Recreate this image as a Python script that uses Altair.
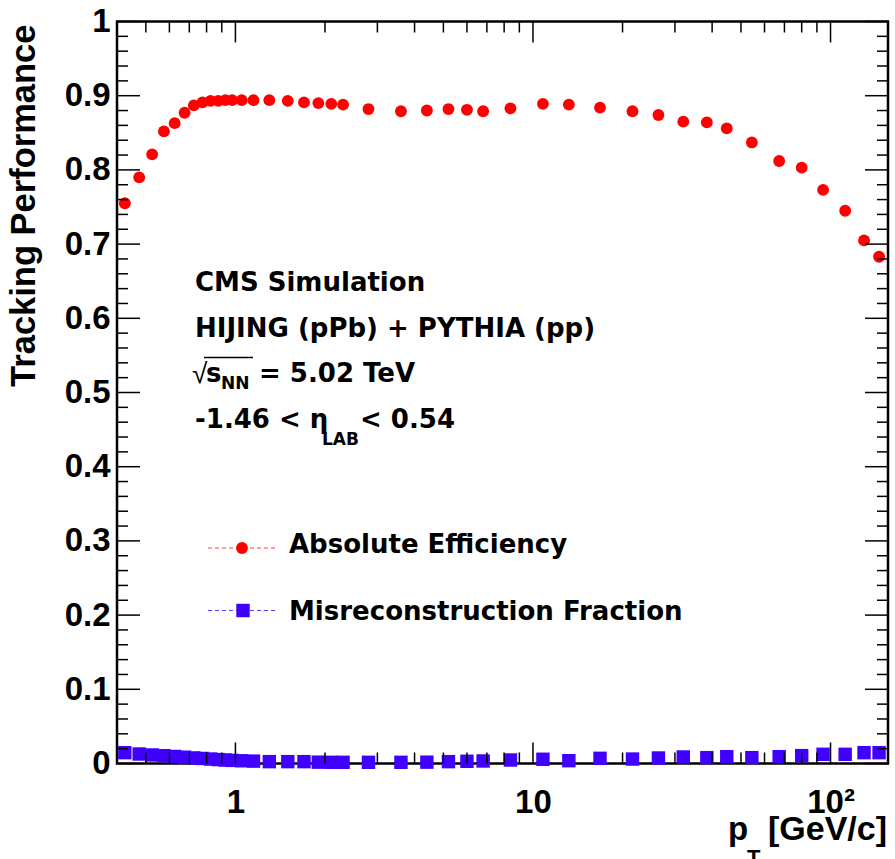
import altair as alt
import pandas as pd

# ---------------- data ----------------
pt = [0.425, 0.475, 0.525, 0.575, 0.625, 0.675, 0.725, 0.775, 0.825, 0.875,
      0.925, 0.975, 1.05, 1.15, 1.3, 1.5, 1.7, 1.9, 2.1, 2.3,
      2.8, 3.6, 4.4, 5.2, 6.0, 6.8, 8.4, 10.8, 13.2, 16.8,
      21.6, 26.4, 32.0, 38.4, 44.8, 54.4, 67.2, 80.0, 94.4, 112.0,
      129.6, 145.6]

efficiency = [0.755, 0.790, 0.821, 0.852, 0.863, 0.877, 0.887, 0.891, 0.893, 0.893,
              0.894, 0.894, 0.894, 0.894, 0.894, 0.893, 0.891, 0.890, 0.889, 0.888,
              0.882, 0.879, 0.880, 0.882, 0.881, 0.879, 0.883, 0.889, 0.888, 0.884,
              0.879, 0.874, 0.865, 0.864, 0.856, 0.837, 0.812, 0.803, 0.773, 0.745,
              0.705, 0.683]

misreco = [0.0146, 0.0128, 0.0115, 0.0105, 0.0095, 0.0085, 0.0075, 0.0068, 0.0060, 0.0053,
           0.0047, 0.0042, 0.0037, 0.0032, 0.0025, 0.0025, 0.0025, 0.0018, 0.0016, 0.0016,
           0.0016, 0.0016, 0.0018, 0.0025, 0.0030, 0.0034, 0.0047, 0.0057, 0.0038, 0.0070,
           0.0060, 0.0074, 0.0088, 0.0079, 0.0092, 0.0079, 0.0092, 0.0106, 0.0124, 0.0124,
           0.0146, 0.0146]

y_major = [0.0, 0.1, 0.2, 0.3, 0.4, 0.5, 0.6, 0.7, 0.8, 0.9, 1.0]
y_minor = [0.02, 0.04, 0.06, 0.08, 0.12, 0.14, 0.16, 0.18, 0.22, 0.24, 0.26, 0.28,
           0.32, 0.34, 0.36, 0.38, 0.42, 0.44, 0.46, 0.48, 0.52, 0.54, 0.56, 0.58,
           0.62, 0.64, 0.66, 0.68, 0.72, 0.74, 0.76, 0.78, 0.82, 0.84, 0.86, 0.88,
           0.92, 0.94, 0.96, 0.98]
x_major = [1, 10, 100]
x_minor = [0.5, 0.6, 0.7, 0.8, 0.9, 2, 3, 4, 5, 6, 7, 8, 9,
           20, 30, 40, 50, 60, 70, 80, 90]

# ---------------- layout ----------------
W, H = 771, 742
OX, OY = 117, 21.5
FONT = "Liberation Sans"
TFONT = "DejaVu Sans"
RED = "#ff0000"
BLUE = "#4000ff"

xscale = alt.Scale(type="log", domain=[0.4, 156], nice=False)
yscale = alt.Scale(domain=[0, 1], nice=False, zero=False)

df = pd.DataFrame({"pt": pt, "eff": efficiency, "mis": misreco})

xaxis = alt.Axis(values=x_major,
                 labelExpr="datum.value == 100 ? '10²' : datum.value == 10 ? '10' : '1'",
                 labelFont=FONT, labelFontWeight="bold", labelFontSize=33,
                 labelColor="black", labelPadding=23, labelFlush=False,
                 labelOverlap=False, ticks=False, tickSize=0, domain=False,
                 grid=False, title=None)
yaxis = alt.Axis(values=y_major,
                 labelExpr="datum.value == 0 ? '0' : datum.value == 1 ? '1' : format(datum.value, '.1f')",
                 labelFont=FONT, labelFontWeight="bold", labelFontSize=33,
                 labelColor="black", labelPadding=7, labelOverlap=False,
                 ticks=False, tickSize=0, domain=False, grid=False,
                 title="Tracking Performance", titleFont=FONT,
                 titleFontWeight="bold", titleFontSize=34.5, titleColor="black",
                 titleAngle=270, titleAlign="right", titleBaseline="alphabetic",
                 titleX=34 - OX, titleY=24 - OY)

eff_layer = alt.Chart(df).mark_point(shape="circle", filled=True, size=140,
                                     color=RED, opacity=1).encode(
    x=alt.X("pt:Q", scale=xscale, axis=xaxis),
    y=alt.Y("eff:Q", scale=yscale, axis=yaxis))

mis_layer = alt.Chart(df).mark_point(shape="square", filled=True, size=180,
                                     color=BLUE, opacity=1).encode(
    x=alt.X("pt:Q", scale=xscale, axis=xaxis),
    y=alt.Y("mis:Q", scale=yscale, axis=yaxis))


def yticks(vals, length, side):
    d = pd.DataFrame({"v": vals})
    x0, x1 = (0, length) if side == "left" else (W - length, W)
    return alt.Chart(d).mark_rule(color="black", strokeWidth=1.5).encode(
        y=alt.Y("v:Q", scale=yscale, axis=yaxis),
        x=alt.value(x0), x2=alt.value(x1))


def xticks(vals, length, side):
    d = pd.DataFrame({"v": vals})
    y0, y1 = (H - length, H) if side == "bottom" else (0, length)
    return alt.Chart(d).mark_rule(color="black", strokeWidth=1.5).encode(
        x=alt.X("v:Q", scale=xscale, axis=xaxis),
        y=alt.value(y0), y2=alt.value(y1))


one = pd.DataFrame({"a": [0]})


def txt(s, x, y, size=26, font=TFONT, align="left", weight="bold"):
    return alt.Chart(one).mark_text(text=s, font=font, fontSize=size,
                                    fontWeight=weight, color="black",
                                    align=align, baseline="alphabetic").encode(
        x=alt.value(x - OX), y=alt.value(y - OY))


def seg(x0, x1, y, color, dash=None, width=1.2):
    kw = dict(color=color, strokeWidth=width)
    if dash:
        kw["strokeDash"] = dash
    return alt.Chart(one).mark_rule(**kw).encode(
        x=alt.value(x0 - OX), x2=alt.value(x1 - OX), y=alt.value(y - OY))


def marker(shape, x, y, color, size):
    return alt.Chart(one).mark_point(shape=shape, filled=True, size=size,
                                     color=color, opacity=1).encode(
        x=alt.value(x - OX), y=alt.value(y - OY))


layers = [
    eff_layer, mis_layer,
    yticks(y_major, 23, "left"), yticks(y_minor, 11, "left"),
    yticks(y_major, 23, "right"), yticks(y_minor, 11, "right"),
    xticks(x_major, 21, "bottom"), xticks(x_minor, 11, "bottom"),
    xticks(x_major, 21, "top"), xticks(x_minor, 11, "top"),
    # annotation block
    txt("CMS Simulation", 195, 291),
    txt("HIJING (pPb) + PYTHIA (pp)", 195, 337),
    txt("√", 192, 383, size=28, font=FONT, weight="normal"),
    seg(204, 253, 357.5, "black", width=1.3),
    txt("s", 206, 382),
    txt("NN", 221, 389, size=17),
    txt("= 5.02 TeV", 259, 382),
    txt("-1.46 < η", 195, 428),
    txt("LAB", 322, 445, size=17),
    txt("< 0.54", 360, 428),
    # legend
    seg(208, 276, 548, "#ff4040", dash=[4, 3]),
    marker("circle", 242, 548, RED, 140),
    txt("Absolute Efficiency", 289, 553),
    seg(208, 276, 610.5, "#5a3cff", dash=[4, 3]),
    marker("square", 243, 610.5, BLUE, 180),
    txt("Misreconstruction Fraction", 289, 620),
    # x title
    txt("p", 728, 840, size=33, font=FONT),
    txt("T", 747, 865, size=22, font=FONT),
    txt("[GeV/c]", 768, 840, size=34, font=FONT),
]

chart = alt.layer(*layers).properties(
    width=W, height=H,
    autosize=alt.AutoSizeParams(type="none"),
    padding={"left": OX, "top": OY, "right": 895 - OX - W, "bottom": 859 - OY - H},
    background="white",
).configure_view(stroke="black", strokeWidth=2.5)

chart.save("out.html", embed_options={"renderer": "svg", "actions": False})
